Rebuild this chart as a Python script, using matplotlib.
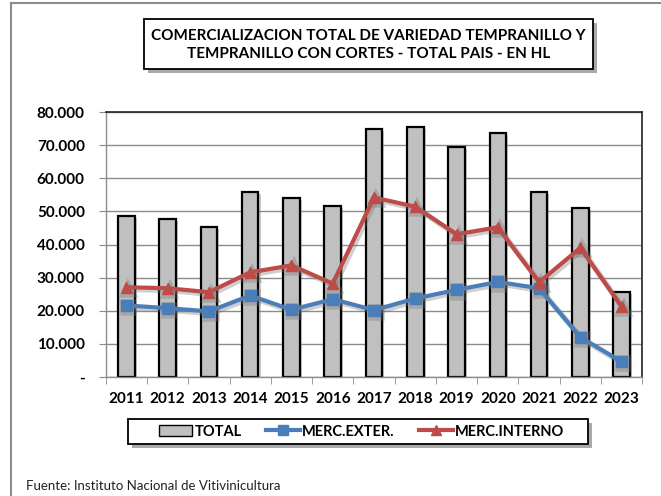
import matplotlib
matplotlib.use("Agg")
import matplotlib.pyplot as plt
import matplotlib.patheffects as pe
from matplotlib.patches import Rectangle, Patch
from matplotlib.lines import Line2D
import numpy as np

years = ["2011", "2012", "2013", "2014", "2015", "2016", "2017",
         "2018", "2019", "2020", "2021", "2022", "2023"]
total = [48600, 47600, 45200, 55900, 54100, 51500, 74800,
         75400, 69500, 73800, 55800, 51000, 25800]
merc_exter = [21600, 20800, 19800, 24600, 20300, 23500, 20200,
              23700, 26300, 28700, 26800, 12000, 4600]
merc_interno = [27100, 26800, 25600, 31600, 33700, 28200, 54200,
                51400, 43100, 45200, 28600, 39000, 21200]
yticks = [0, 10000, 20000, 30000, 40000, 50000, 60000, 70000, 80000]
ytick_labels = ["-", "10.000", "20.000", "30.000", "40.000", "50.000",
                "60.000", "70.000", "80.000"]
title = "COMERCIALIZACION TOTAL DE VARIEDAD TEMPRANILLO Y\nTEMPRANILLO CON CORTES - TOTAL PAIS - EN HL"
source = "Fuente: Instituto Nacional de Vitivinicultura"

plt.rcParams['font.family'] = ['Lato', 'DejaVu Sans']

W, H = 661, 496
fig = plt.figure(figsize=(W / 100, H / 100), dpi=100)

def fx(px):
    return px / W

def fy(py):
    return 1 - py / H

# outer chart frame (partially visible)
fig.add_artist(Line2D([fx(11), fx(11)], [0, fy(2.5)], transform=fig.transFigure,
                      color="#8C8C8C", lw=1.5))
fig.add_artist(Line2D([fx(11), 1], [fy(2.5), fy(2.5)], transform=fig.transFigure,
                      color="#8C8C8C", lw=1.5))

ax = fig.add_axes([fx(105.7), fy(377), fx(642.3) - fx(105.7), fy(112) - fy(377)])
x = np.arange(len(years))

shadow = [pe.SimplePatchShadow(offset=(1.5, -1.5), shadow_rgbFace="#888888", alpha=0.45), pe.Normal()]
bars = ax.bar(x, total, width=0.4, color="#C0C0C0", edgecolor="black", linewidth=1.6, zorder=2)
for b in bars:
    b.set_path_effects(shadow)

line_shadow = [pe.SimpleLineShadow(offset=(1.5, -1.5), shadow_color="#777777", alpha=0.35, linewidth=4), pe.Normal()]
ax.plot(x, merc_exter, color="#4A7EBB", lw=3, marker="s", markersize=8,
        markerfacecolor="#4A7EBB", markeredgecolor="#4A7EBB", zorder=3,
        path_effects=line_shadow)
ax.plot(x, merc_interno, color="#BE4B48", lw=3, marker="^", markersize=8,
        markerfacecolor="#BE4B48", markeredgecolor="#BE4B48", zorder=4,
        path_effects=line_shadow)

ax.set_xlim(-0.5, len(years) - 0.5)
ax.set_ylim(0, 80000)
ax.set_yticks(yticks)
ax.set_yticklabels(ytick_labels, fontsize=11, fontweight="bold")
ax.set_xticks(x)
ax.set_xticklabels(years, fontsize=11, fontweight="bold")
ax.tick_params(axis="x", which="major", length=0, pad=11)
ax.set_xticks(np.arange(-0.5, len(years), 1.0), minor=True)
ax.tick_params(axis="x", which="minor", length=5, color="#8C8C8C", direction="out")
ax.tick_params(axis="y", length=5, color="#8C8C8C", direction="out", pad=10)
ax.yaxis.grid(True, color="#8C8C8C", lw=1)
ax.set_axisbelow(True)
for s in ["top", "right"]:
    ax.spines[s].set_color("#222222")
    ax.spines[s].set_linewidth(1.2)
for s in ["left", "bottom"]:
    ax.spines[s].set_color("#8C8C8C")
    ax.spines[s].set_linewidth(1)

# title box
box_shadow = [pe.SimplePatchShadow(offset=(3, -3), shadow_rgbFace="#555555", alpha=0.5), pe.Normal()]
tbox = Rectangle((fx(144), fy(69)), fx(593) - fx(144), fy(19) - fy(69),
                 transform=fig.transFigure, facecolor="white", edgecolor="black",
                 lw=1.3, path_effects=box_shadow)
fig.add_artist(tbox)
fig.text(fx(368.5), fy(45), title, ha="center", va="center", fontsize=11,
         fontweight="bold", linespacing=1.45)

# legend box
lbox = Rectangle((fx(128), fy(444)), fx(588) - fx(128), fy(419) - fy(444),
                 transform=fig.transFigure, facecolor="white", edgecolor="black",
                 lw=1.3, path_effects=box_shadow)
fig.add_artist(lbox)
handles = [
    Patch(facecolor="#C0C0C0", edgecolor="black", lw=1, label="TOTAL"),
    Line2D([], [], color="#4A7EBB", lw=3, marker="s", markersize=7, label="MERC.EXTER."),
    Line2D([], [], color="#BE4B48", lw=3, marker="^", markersize=7, label="MERC.INTERNO"),
]
fig.legend(handles=handles, loc="center", bbox_to_anchor=(fx(361.5), fy(431.5)),
           ncol=3, frameon=False, prop={"weight": "bold", "size": 10.5},
           handlelength=2.3, handleheight=0.8, handletextpad=0.15, columnspacing=1.7,
           borderaxespad=0)

fig.text(fx(26), fy(486), source, ha="left", va="center", fontsize=9.5, color="#222222")

fig.savefig("out.png", dpi=100)
